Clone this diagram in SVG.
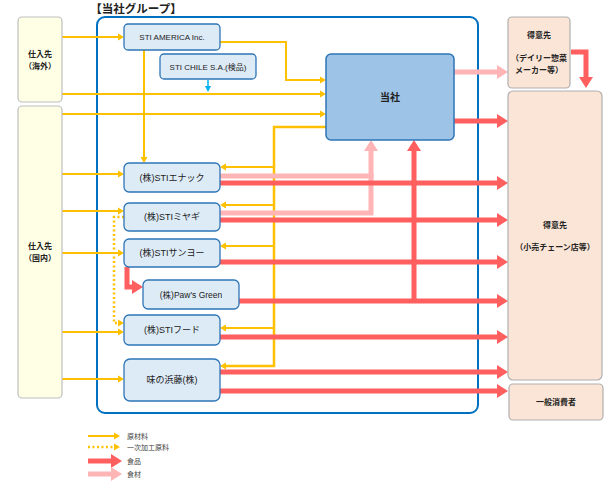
<svg xmlns="http://www.w3.org/2000/svg" width="614" height="481" viewBox="0 0 614 481">
<style>
text{font-family:"Liberation Sans","Noto Sans CJK JP",sans-serif;fill:#222;text-anchor:middle}
.sub rect{fill:#DDEBF7;stroke:#2E75B6;stroke-width:1.3}
.sub text{font-size:9px}
.sup rect{fill:#FFFFE6;stroke:#BFBFBF;stroke-width:1.2}
.cus rect{fill:#FBE5D6;stroke:#AFAFAF;stroke-width:1.2}
.sup text,.cus text{font-size:8px;font-weight:bold}
.y{fill:none;stroke:#FFC000;stroke-width:2;marker-end:url(#ay)}
.yd{fill:none;stroke:#FFC000;stroke-width:2.5;stroke-dasharray:2 2.5;marker-end:url(#ay)}
.r{fill:none;stroke:#FF5F5F;stroke-width:5;marker-end:url(#ar)}
.p{fill:none;stroke:#FFB5B5;stroke-width:5;marker-end:url(#ap)}
.pn{fill:none;stroke:#FFB5B5;stroke-width:5}
.b{fill:none;stroke:#00B0F0;stroke-width:1.5;marker-end:url(#ab)}
.leg text{font-size:7px;text-anchor:start;fill:#404040}
</style>
<defs>
<marker id="ay" markerUnits="userSpaceOnUse" viewBox="0 -4 6 8" refX="0" refY="0" markerWidth="6" markerHeight="8" orient="auto"><path d="M0,-3.5L6,0L0,3.5z" fill="#FFC000"/></marker>
<marker id="ab" markerUnits="userSpaceOnUse" viewBox="0 -4 6 8" refX="0" refY="0" markerWidth="6" markerHeight="8" orient="auto"><path d="M0,-3L6,0L0,3z" fill="#00B0F0"/></marker>
<marker id="ar" markerUnits="userSpaceOnUse" viewBox="0 -7 11 14" refX="0" refY="0" markerWidth="11" markerHeight="14" orient="auto"><path d="M0,-7L11,0L0,7z" fill="#FF5F5F"/></marker>
<marker id="ap" markerUnits="userSpaceOnUse" viewBox="0 -7 11 14" refX="0" refY="0" markerWidth="11" markerHeight="14" orient="auto"><path d="M0,-7L11,0L0,7z" fill="#FFB5B5"/></marker>
</defs>
<rect width="614" height="481" fill="#fff"/>

<g id="group-frame">
<text x="136" y="13" style="font-size:11.5px;font-weight:bold">【当社グループ】</text>
<rect x="97" y="17" width="381" height="396" rx="8" fill="none" stroke="#0070C0" stroke-width="2"/>
</g>

<g id="connectors">
<path class="y" d="M62,37H118"/>
<path class="y" d="M62,94H320"/>
<path class="y" d="M62,114H320"/>
<path class="y" d="M220,42H286V80H320"/>
<path class="y" d="M144,50V157"/>
<path class="y" d="M326,127H274V366H226" style="stroke-width:2.5"/>
<path class="y" d="M274,167H226"/>
<path class="y" d="M274,205H226"/>
<path class="y" d="M274,246H226"/>
<path class="y" d="M274,328H226"/>
<path class="y" d="M62,174H118"/>
<path class="y" d="M62,211H118"/>
<path class="y" d="M62,253H118"/>
<path class="y" d="M62,332H118"/>
<path class="y" d="M62,379H118"/>
<path class="yd" d="M124,217H114V323H118"/>
<path class="b" d="M208,80V86"/>
<path class="p" d="M454,72H497"/>
<path class="pn" d="M220,176H373.5"/>
<path class="p" d="M220,213H371V151"/>
<path class="r" d="M454,121H497"/>
<path class="r" d="M220,183H497"/>
<path class="r" d="M220,220H497"/>
<path class="r" d="M220,262H497"/>
<path class="r" d="M239,301H497"/>
<path class="r" d="M220,337H497"/>
<path class="r" d="M220,372H497"/>
<path class="r" d="M220,391H497"/>
<path class="r" d="M414,301V151"/>
<path class="r" d="M571,52H586V77"/>
<path class="r" d="M127,267V287H132"/>
</g>

<g id="supplier-overseas" class="sup">
<rect x="18" y="17" width="44" height="85" rx="4"/>
<text x="40" y="57">仕入先</text>
<text x="40" y="69">（海外）</text>
</g>
<g id="supplier-domestic" class="sup">
<rect x="18" y="106" width="44" height="292" rx="4"/>
<text x="40" y="249">仕入先</text>
<text x="40" y="261">（国内）</text>
</g>

<g id="sti-america" class="sub">
<rect x="124" y="24" width="96" height="26" rx="4"/>
<text x="172" y="40" style="font-size:8px">STI AMERICA Inc.</text>
</g>
<g id="sti-chile" class="sub">
<rect x="160" y="54" width="96" height="25" rx="4"/>
<text x="208" y="69.5" style="font-size:8px">STI CHILE S.A.(検品)</text>
</g>
<g id="tousha">
<rect x="326" y="54" width="128" height="86" rx="5" fill="#9DC3E6" stroke="#2E75B6" stroke-width="1.5"/>
<text x="390" y="101" style="font-size:10px;font-weight:bold">当社</text>
</g>
<g id="sti-enac" class="sub">
<rect x="124" y="163" width="96" height="29" rx="5"/>
<text x="172" y="180.5">(株)STIエナック</text>
</g>
<g id="sti-miyagi" class="sub">
<rect x="124" y="203" width="96" height="28" rx="5"/>
<text x="172" y="220">(株)STIミヤギ</text>
</g>
<g id="sti-sanyo" class="sub">
<rect x="124" y="239" width="96" height="28" rx="5"/>
<text x="172" y="256">(株)STIサンヨー</text>
</g>
<g id="paws-green" class="sub">
<rect x="143" y="280" width="96" height="29" rx="5"/>
<text x="191" y="297.5" style="font-size:8.5px">(株)Paw's Green</text>
</g>
<g id="sti-food" class="sub">
<rect x="124" y="315" width="96" height="30" rx="5"/>
<text x="172" y="333">(株)STIフード</text>
</g>
<g id="ajinohamafuji" class="sub">
<rect x="124" y="359" width="96" height="42" rx="6"/>
<text x="172" y="383">味の浜藤(株)</text>
</g>

<g id="customer-daily" class="cus">
<rect x="508" y="17" width="62" height="71" rx="4"/>
<text x="539" y="38">得意先</text>
<text x="539" y="61">（デイリー惣菜</text>
<text x="539" y="73">メーカー等）</text>
</g>
<g id="customer-retail" class="cus">
<rect x="508" y="91" width="94" height="289" rx="5"/>
<text x="555" y="228">得意先</text>
<text x="555" y="250">（小売チェーン店等）</text>
</g>
<g id="consumer" class="cus">
<rect x="509" y="384" width="94" height="36" rx="4"/>
<text x="556" y="405">一般消費者</text>
</g>

<g id="legend" class="leg">
<path d="M88,436H114" fill="none" stroke="#FFC000" stroke-width="2" marker-end="url(#ay)"/>
<path d="M88,447H114" fill="none" stroke="#FFC000" stroke-width="2.5" stroke-dasharray="2 2.5" marker-end="url(#ay)"/>
<path d="M88,461H111" fill="none" stroke="#FF5F5F" stroke-width="5" marker-end="url(#ar)"/>
<path d="M88,474H111" fill="none" stroke="#FFB5B5" stroke-width="5" marker-end="url(#ap)"/>
<text x="127" y="438.5">原材料</text>
<text x="127" y="450">一次加工原料</text>
<text x="127" y="464">食品</text>
<text x="127" y="477">食材</text>
</g>
</svg>
